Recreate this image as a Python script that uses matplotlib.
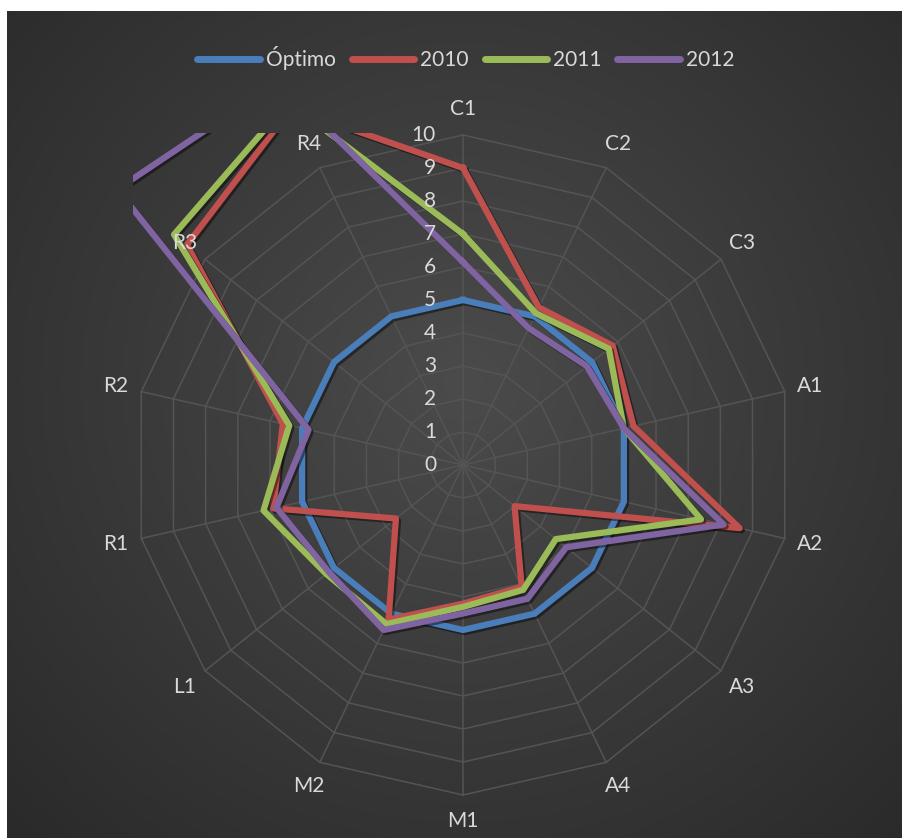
import numpy as np
import matplotlib
matplotlib.use('Agg')
import matplotlib.pyplot as plt
import matplotlib.patheffects as pe
from matplotlib.patches import Rectangle
from matplotlib.lines import Line2D
from matplotlib.colors import LinearSegmentedColormap

# datos
categories = ['C1', 'C2', 'C3', 'A1', 'A2', 'A3', 'A4', 'M1', 'M2', 'L1', 'R1', 'R2', 'R3', 'R4']
optimo = [5, 5, 5, 5, 5, 5, 5, 5, 5, 5, 5, 5, 5, 5]
y2010 = [9, 5.3, 5.8, 5.3, 8.6, 2.0, 4.1, 4.2, 5.2, 2.6, 5.9, 5.6, 10.7, 12.0]
y2011 = [7, 5.1, 5.65, 5.0, 7.4, 3.6, 4.2, 4.3, 5.35, 5.3, 6.2, 5.4, 11.2, 12.2]
y2012 = [6.15, 4.6, 4.8, 5.0, 8.1, 4.0, 4.5, 4.5, 5.55, 5.2, 5.8, 4.8, 13.4, 12.9]
series_names = ['Óptimo', '2010', '2011', '2012']
radial_ticks = [0, 1, 2, 3, 4, 5, 6, 7, 8, 9, 10]

colors = ['#4a7ebb', '#c0504d', '#9bbb59', '#8064a2']
text_color = '#d9d9d9'
grid_color = '#545454'

plt.rcParams['font.family'] = ['Lato', 'DejaVu Sans']

W, H = 902, 838
fig = plt.figure(figsize=(W / 100, H / 100), dpi=100, facecolor='white')

# fondo con degradado radial
bg = fig.add_axes([7 / W, 0, (W - 7) / W, (H - 11) / H])
gx, gy = np.meshgrid(np.linspace(0, 1, 400), np.linspace(0, 1, 400))
dist = np.sqrt(((gx - 0.51) * 1.0) ** 2 + ((gy - 0.45) * 0.93) ** 2)
cmap = LinearSegmentedColormap.from_list('bg', ['#4b4b4b', '#3a3a3a', '#2a2a2a'])
bg.imshow(dist, cmap=cmap, extent=(0, 1, 0, 1), aspect='auto', vmin=0, vmax=0.72)
bg.set_axis_off()

# ejes polares: centro (463, 465) px, 33 px por unidad
rmax = 14
cx, cy = 463, H - 465
rad = rmax * 33
ax = fig.add_axes([(cx - rad) / W, (cy - rad) / H, 2 * rad / W, 2 * rad / H], projection='polar')
ax.set_theta_zero_location('N')
ax.set_theta_direction(-1)
ax.set_axis_off()

n = len(categories)
theta = np.linspace(0, 2 * np.pi, n, endpoint=False)
theta_c = np.append(theta, theta[0])

# rejilla poligonal
for v in radial_ticks[1:]:
    ax.plot(theta_c, [v] * (n + 1), color=grid_color, lw=1.1, zorder=1)
for t in theta:
    ax.plot([t, t], [0, 10], color=grid_color, lw=1.1, zorder=1)

# etiquetas del eje
for v in radial_ticks:
    ax.annotate(str(v), xy=(0, v), xytext=(-27, 0), textcoords='offset pixels',
                ha='right', va='center', color=text_color, fontsize=15, zorder=6)
for t, c in zip(theta, categories):
    ax.text(t, 10.8, c, ha='center', va='center', color=text_color, fontsize=15, zorder=6)

# area de trazado (recorte rectangular)
clip_rect = Rectangle((133 / W, (H - 800) / H), (795 - 133) / W, (800 - 133) / H,
                      transform=fig.transFigure, facecolor='none', edgecolor='none')
fig.add_artist(clip_rect)

for vals, col in zip([optimo, y2010, y2011, y2012], colors):
    line, = ax.plot(theta_c, vals + vals[:1], color=col, lw=4.5, zorder=3,
                    solid_joinstyle='round',
                    path_effects=[pe.SimpleLineShadow(offset=(1.5, -1.5), shadow_color='black', alpha=0.45),
                                  pe.Normal()])
    line.set_clip_path(clip_rect)

ax.set_ylim(0, rmax)

# leyenda
handles = [Line2D([], [], color=c, lw=5, solid_capstyle='round') for c in colors]
fig.legend(handles, series_names, loc='center', bbox_to_anchor=(466 / W, 1 - 58 / H), ncol=4,
           frameon=False, fontsize=15, handlelength=3.0, handletextpad=0.3, columnspacing=0.75,
           labelcolor=text_color)

fig.savefig('out.png', dpi=100, facecolor='white')
